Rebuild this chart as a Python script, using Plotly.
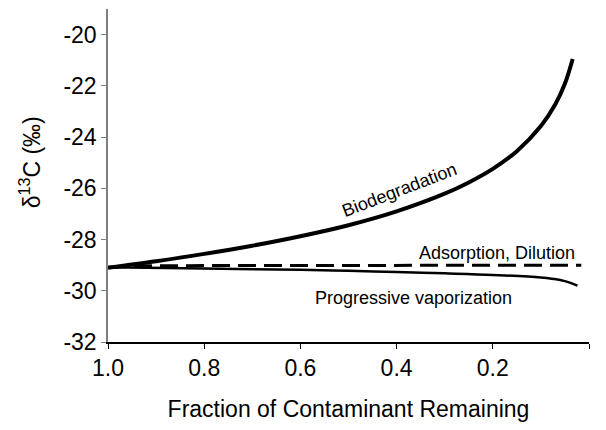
import plotly.graph_objects as go

# Data
bio_f = [1.0, 0.9, 0.8, 0.7, 0.6, 0.5, 0.4, 0.3, 0.25, 0.2, 0.15, 0.1, 0.07, 0.05, 0.034]
bio_d = [-29.1, -28.85, -28.56, -28.24, -27.87, -27.44, -26.90, -26.21, -25.77, -25.24, -24.55, -23.57, -22.72, -21.91, -20.95]

ads_f = [1.0, 0.9, 0.016]
ads_d = [-29.08, -29.02, -29.0]

vap_f = [1.0, 0.8, 0.6, 0.5, 0.4, 0.3, 0.2, 0.1, 0.06, 0.04, 0.024]
vap_d = [-29.08, -29.13, -29.18, -29.22, -29.27, -29.32, -29.38, -29.48, -29.58, -29.68, -29.80]

x_ticks = [1.0, 0.8, 0.6, 0.4, 0.2, 0.0]
x_tick_text = ["1.0", "0.8", "0.6", "0.4", "0.2", "0.0"]
y_ticks = [-32, -30, -28, -26, -24, -22, -20]
y_tick_text = ["-32", "-30", "-28", "-26", "-24", "-22", "-20"]

FONT = "Arial, Liberation Sans, sans-serif"

fig = go.Figure()
fig.add_trace(go.Scatter(x=bio_f, y=bio_d, mode="lines", line=dict(color="black", width=4, shape="spline"),
                         showlegend=False, hoverinfo="skip"))
fig.add_trace(go.Scatter(x=ads_f, y=ads_d, mode="lines", line=dict(color="black", width=3, dash="18px,8px"),
                         showlegend=False, hoverinfo="skip"))
fig.add_trace(go.Scatter(x=vap_f, y=vap_d, mode="lines", line=dict(color="black", width=2.5, shape="spline"),
                         showlegend=False, hoverinfo="skip"))
# invisible helper trace so the overlay axis carrying the last tick label is drawn
fig.add_trace(go.Scatter(x=[x_ticks[-1]], y=[y_ticks[0]], xaxis="x2", mode="markers",
                         marker=dict(opacity=0), showlegend=False, hoverinfo="skip"))

fig.add_annotation(x=0.394, y=-26.08, text="Biodegradation", showarrow=False, textangle=-21,
                   font=dict(family=FONT, size=18, color="black"))
fig.add_annotation(x=0.024, y=-28.54, text="Adsorption, Dilution", showarrow=False, xanchor="right",
                   font=dict(family=FONT, size=18, color="black"))
fig.add_annotation(x=0.364, y=-30.3, text="Progressive vaporization", showarrow=False,
                   font=dict(family=FONT, size=18, color="black"))
fig.add_annotation(xref="paper", yref="paper", x=-0.162, y=0.54, xanchor="center", yanchor="middle",
                   text="δ<sup>13</sup>C (‰)", showarrow=False,
                   textangle=-90, font=dict(family=FONT, size=23, color="black"))

main_text = x_tick_text[:-1] + [""]

fig.update_layout(
    width=590, height=414,
    margin=dict(l=100, r=8.5, t=1, b=80),
    paper_bgcolor="white", plot_bgcolor="white",
    font=dict(family=FONT, size=23, color="black"),
    hovermode=False,
    xaxis=dict(range=[1.0, 0.0], tickvals=x_ticks, ticktext=main_text, showgrid=False, zeroline=False,
               showline=True, linecolor="black", linewidth=1.5, ticks="outside", ticklen=5, tickcolor="black",
               tickfont=dict(family=FONT, size=23, color="black"),
               title=dict(text="Fraction of Contaminant Remaining", font=dict(family=FONT, size=23, color="black"),
                          standoff=24)),
    xaxis2=dict(range=[1.0, 0.0], overlaying="x", anchor="y", side="bottom",
                tickvals=[x_ticks[-1]], ticktext=[x_tick_text[-1]], showgrid=False, zeroline=False,
                showline=False, ticks="outside", ticklen=5, tickcolor="rgba(0,0,0,0)",
                ticklabelshift=-10,
                tickfont=dict(family=FONT, size=23, color="black")),
    yaxis=dict(range=[-32, -19], tickvals=y_ticks, ticktext=y_tick_text, showgrid=False, zeroline=False,
               showline=True, linecolor="#808080", linewidth=1.5, ticks="outside", ticklen=5, tickcolor="#808080",
               tickfont=dict(family=FONT, size=23, color="black")),
)

fig.write_html("out.html", config={"displayModeBar": False})
